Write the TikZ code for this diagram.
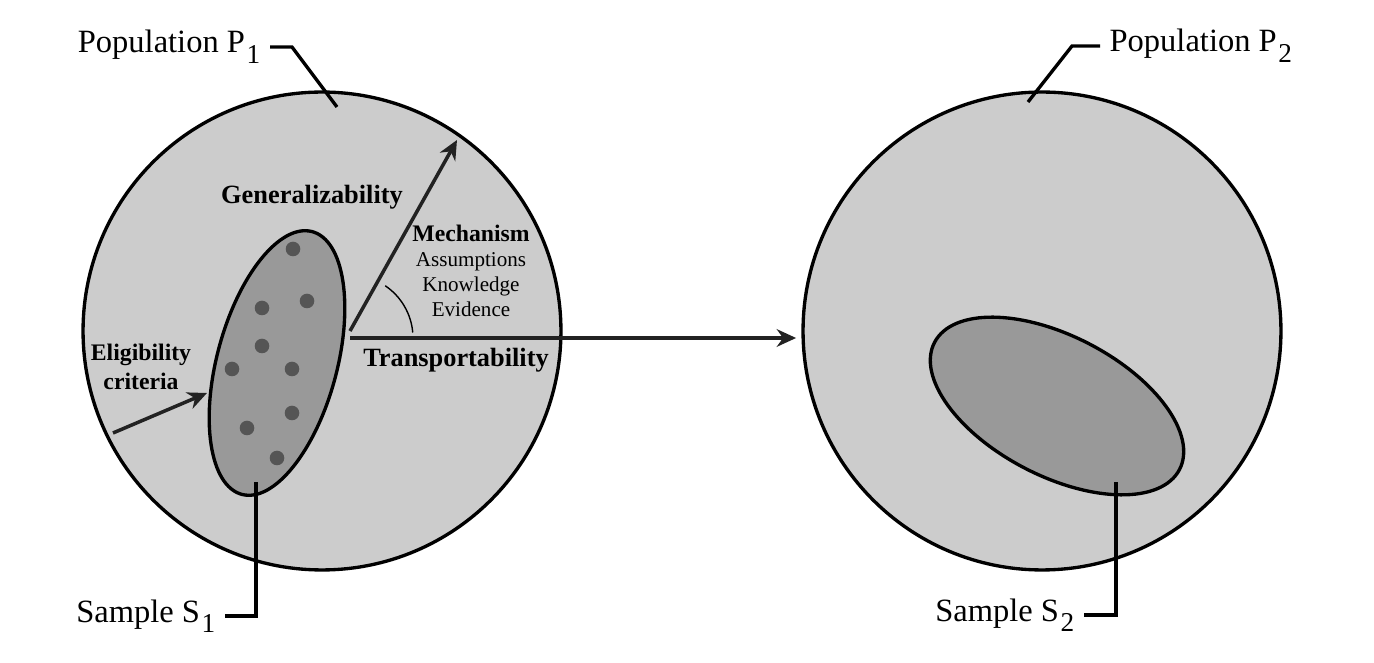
\documentclass[tikz,border=0pt]{standalone}
\usepackage{fontspec}
\setmainfont{Liberation Serif}
\usetikzlibrary{arrows.meta,positioning}
\definecolor{popgray}{HTML}{CCCCCC}
\definecolor{samplegray}{HTML}{999999}
\definecolor{dotgray}{HTML}{555555}
\definecolor{arrowgray}{HTML}{222222}
\newcommand{\lowsub}[1]{\kern1pt\raisebox{-6pt}{\fontsize{15.5}{15.5}\selectfont #1}}

\begin{document}
\begin{tikzpicture}[x=0.02cm,y=0.02cm,
    popcircle/.style={circle,draw,line width=1.9pt,fill=popgray,minimum size=9.56cm,inner sep=0pt},
    samplearea/.style={draw,line width=1.9pt,fill=samplegray},
    leader/.style={line width=1.9pt},
    biglabel/.style={font=\fontsize{18.5}{20}\selectfont,inner sep=0pt,outer sep=5.5pt},
    boldlabel/.style={font=\fontsize{15}{18}\selectfont\bfseries,inner sep=0pt},
    smallbold/.style={font=\fontsize{13.5}{16.4}\selectfont\bfseries,align=center,inner sep=0pt},
    mainarrow/.style={draw=arrowgray,line width=2pt,-{Stealth[length=11pt,width=10pt]}}]
  \useasboundingbox (0,0) rectangle (1374,663);
  \node[popcircle] (P1) at (322,332) {};
  \node[popcircle] (P2) at (1042,332) {};
  \draw[samplearea] (277,300) ellipse [x radius=136, y radius=60, rotate=75];
  \draw[samplearea] (1057,257) ellipse [x radius=138, y radius=70, rotate=-27.4];
  \foreach \px/\py in {293/414,307/362,262/355,262/317,232/294,292/294,292/250,247/235,277/205}
    \fill[dotgray] (\px,\py) circle (7.3);
  \coordinate (gbase) at (350,332);
  \coordinate (tbase) at (350,325);
  \coordinate (gtip) at (457,523);
  \draw[mainarrow] (gbase) -- (gtip);
  \draw[mainarrow,shorten >=3pt] (tbase) -- (tbase -| P2.west);
  \draw[line width=0.8pt] (tbase) ++(5:63) arc[start angle=5, end angle=56, radius=63];
  \coordinate (elig) at (113,230);
  \coordinate (eligtip) at (207,270);
  \draw[mainarrow] (elig) -- (eligtip);
  \node[boldlabel] (gen) at (312,466) {Generalizability};
  \node[boldlabel] (trans) at (456,303) {Transportability};
  \node[smallbold] (eligtext) at (141,296) {Eligibility\\criteria};
  \node[align=center,inner sep=0pt,font=\fontsize{12}{14.2}\selectfont] (mech) at (471,392)
    {{\fontsize{13.5}{14.2}\selectfont\bfseries Mechanism}\\Assumptions\\Knowledge\\Evidence};
  \node[biglabel,anchor=east] (labP1) at (270,616) {Population P\lowsub{1}};
  \node[biglabel,anchor=west] (labP2) at (1100,617) {Population P\lowsub{2}};
  \node[biglabel,anchor=east] (labS1) at (225,47) {Sample S\lowsub{1}};
  \node[biglabel,anchor=east] (labS2) at (1084,48) {Sample S\lowsub{2}};
  \coordinate (p1end) at (337,556);
  \coordinate (p2end) at (1028,561);
  \coordinate (s1end) at (256,181);
  \coordinate (s2end) at (1116,181);
  \draw[leader] (labP1.east) -- ++(22,0) -- (p1end);
  \draw[leader] (labP2.west) -- ++(-28,0) -- (p2end);
  \draw[leader] (labS1.east) -| (s1end);
  \draw[leader] (labS2.east) -| (s2end);
\end{tikzpicture}
\end{document}
